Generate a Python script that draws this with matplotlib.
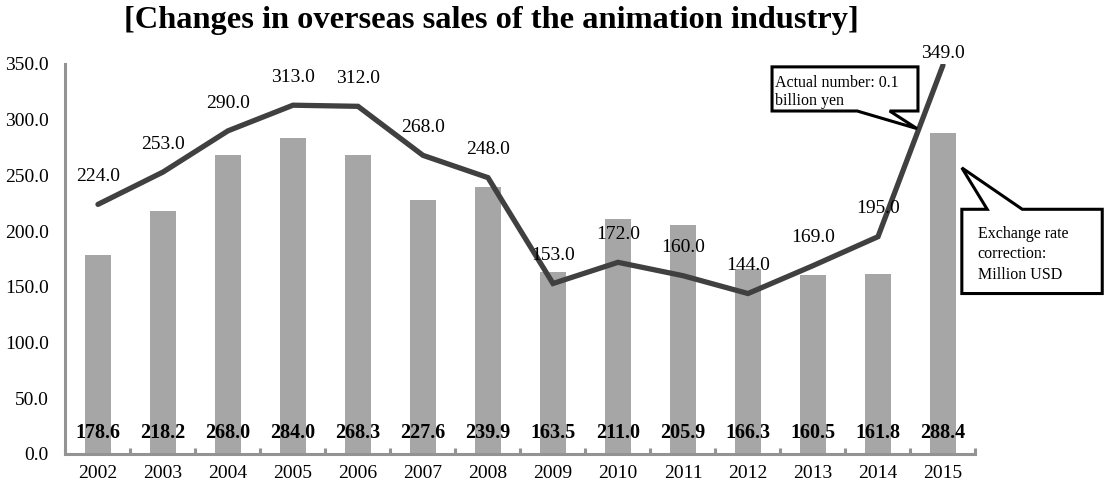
import matplotlib.pyplot as plt
import numpy as np
from matplotlib.patches import Polygon

years = ['2002', '2003', '2004', '2005', '2006', '2007', '2008',
         '2009', '2010', '2011', '2012', '2013', '2014', '2015']
# exchange-rate corrected sales, million USD (bars)
usd_million = [178.6, 218.2, 268.0, 284.0, 268.3, 227.6, 239.9,
               163.5, 211.0, 205.9, 166.3, 160.5, 161.8, 288.4]
# actual number, 0.1 billion yen (line)
yen_100m = [224.0, 253.0, 290.0, 313.0, 312.0, 268.0, 248.0,
            153.0, 172.0, 160.0, 144.0, 169.0, 195.0, 349.0]
yticks = [0, 50, 100, 150, 200, 250, 300, 350]

plt.rcParams['font.family'] = ['Liberation Serif', 'DejaVu Serif']

fig = plt.figure(figsize=(11.04, 4.88), dpi=100)
ax = fig.add_axes([0.0593, 0.0697, 0.8243, 0.7992])

x = np.arange(len(years))
ax.bar(x, usd_million, width=0.4, color='#a6a6a6', zorder=2)
ax.plot(x, yen_100m, color='#404040', lw=3.8, zorder=3,
        solid_joinstyle='miter', solid_capstyle='round')

# value labels
for i, v in enumerate(yen_100m):
    dy = 20 if i < len(yen_100m) - 1 else 8
    ax.annotate(f'{v:.1f}', (i, v), xytext=(0, dy), textcoords='offset points',
                ha='center', va='center', fontsize=14, zorder=4)
for i, v in enumerate(usd_million):
    ax.annotate(f'{v:.1f}', (i, 0), xytext=(0, 15), textcoords='offset points',
                ha='center', va='center', fontsize=14.5, fontweight='bold', zorder=4)

ax.set_xlim(-0.5, len(years) - 0.5)
ax.set_ylim(0, 350)
ax.set_yticks(yticks)
ax.set_yticklabels([f'{t:.1f}' for t in yticks])
ax.set_xticks(x)
ax.set_xticklabels(years)
ax.set_xticks(np.arange(-0.5, len(years)), minor=True)
ax.tick_params(axis='both', which='major', length=0, labelsize=14)
ax.tick_params(axis='y', pad=12)
ax.tick_params(axis='x', pad=8)
ax.tick_params(axis='x', which='minor', direction='in', length=4, width=2.2,
               color='#939393')

for side in ['top', 'right']:
    ax.spines[side].set_visible(False)
for side in ['left', 'bottom']:
    ax.spines[side].set_color('#939393')
    ax.spines[side].set_linewidth(2.2)
    ax.spines[side].set_zorder(5)

fig.text(0.4447, 0.958, '[Changes in overseas sales of the animation industry]',
         ha='center', va='center', fontsize=23.3, fontweight='bold')


def callout(box, base, tip, text, side, pad, spacing):
    x0, x1, y0, y1 = box
    b1, b2 = base
    if side == 'bottom':
        pts = [(x0, y1), (x1, y1), (x1, y0), (b2, y0), tip, (b1, y0), (x0, y0)]
    else:
        pts = [(x0, y1), (b1, y1), tip, (b2, y1), (x1, y1), (x1, y0), (x0, y0)]
    ax.add_patch(Polygon(pts, closed=True, facecolor='white', edgecolor='black',
                         lw=2.2, joinstyle='miter', clip_on=False, zorder=6))
    ax.annotate(text, (x0, y1), xytext=pad, textcoords='offset points',
                ha='left', va='top', fontsize=11.5, linespacing=spacing,
                annotation_clip=False, zorder=7)


callout((10.37, 12.615, 307.8, 347.4), (11.68, 12.18), (12.6, 292),
        'Actual number: 0.1\nbillion yen', 'bottom', (2.2, -6), 1.15)
callout((13.29, 15.45, 144.0, 219.6), (13.68, 14.22), (13.29, 256.8),
        'Exchange rate\ncorrection:\nMillion USD', 'top', (11.5, -12), 1.36)

fig.savefig('out.png', dpi=100)
